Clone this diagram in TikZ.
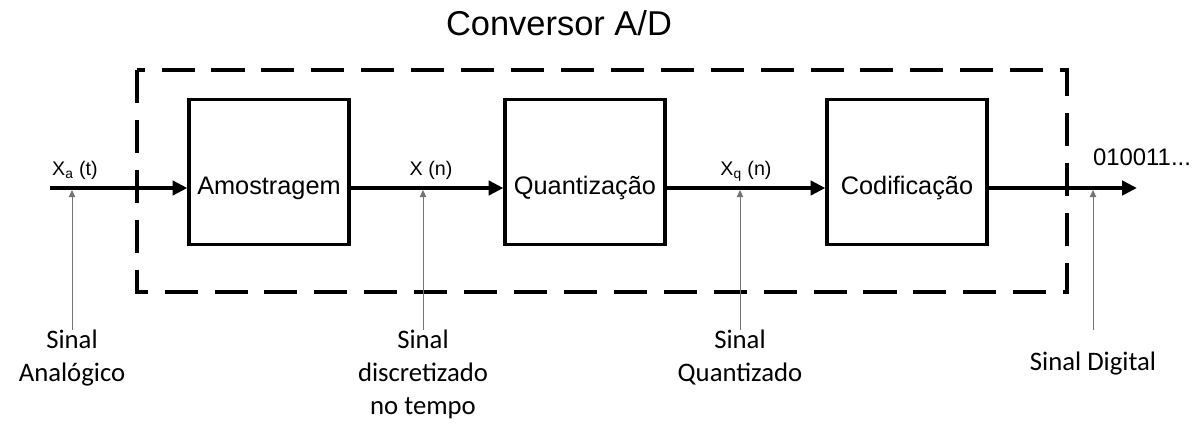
\documentclass[tikz,border=0pt]{standalone}
\usepackage{fontspec}
\setmainfont{Liberation Sans}
\newfontfamily\notefont{Carlito}
\usetikzlibrary{arrows.meta}

\begin{document}
\begin{tikzpicture}[x=0.025cm, y=-0.025cm,
    block/.style={draw=black, line width=2.2pt, minimum width=4cm, minimum height=3.64cm, inner sep=0pt},
    blocktext/.style={font=\fontsize{18}{20}\selectfont, inner sep=0pt},
    signal/.style={line width=2.8pt, -{Triangle[length=10.5pt, width=10pt]}},
    sigtext/.style={font=\fontsize{14}{16}\selectfont, inner sep=0pt, anchor=base},
    pointer/.style={draw=black!55, line width=0.7pt, -{Triangle[length=5pt, width=4.5pt]}},
    note/.style={font=\notefont\fontsize{19}{23.5}\selectfont, align=center, inner sep=0pt, anchor=north}]
    \useasboundingbox (0,0) rectangle (1203,423);

    % Title and dashed outline of the converter
    \node[font=\fontsize{24.5}{28}\selectfont, anchor=base] (title) at (559,35) {Conversor A/D};
    \draw[line width=2.8pt, dash pattern=on 23.5pt off 12pt] (137,70) rectangle (1067,292);

    % The three stages
    \node[block] (amo) at (269,172) {};
    \node[block] (qua) at (585,172) {};
    \node[block] (cod) at (907,172) {};

    \coordinate (xin) at (50,188);
    \coordinate (xout) at (1137,188);
    \node[blocktext] (amotext) at (amo.center |- xin) {Amostragem};
    \node[blocktext] (quatext) at (qua.center |- xin) {Quantização};
    \node[blocktext] (codtext) at (cod.center |- xin) {Codificação};

    % Signal path
    \draw[signal] (xin) -- (amo.west |- xin);
    \draw[signal] (amo.east |- xin) -- (qua.west |- xin);
    \draw[signal] (qua.east |- xin) -- (cod.west |- xin);
    \draw[signal] (cod.east |- xin) -- (xout);

    \node[sigtext] (xa) at (75,175) {X\textsubscript{a} (t)};
    \node[sigtext] (xn) at (431,175) {X (n)};
    \node[sigtext] (xq) at (746,175) {X\textsubscript{q} (n)};
    \node[sigtext, font=\fontsize{17}{20}\selectfont] (bits) at (1142,165) {010011...};

    % Notes under the signals
    \node[note] (n1) at (72,330) {Sinal\\Analógico};
    \node[note] (n2) at (423,330) {Sinal\\discretizado\\no tempo};
    \node[note] (n3) at (740,330) {Sinal\\Quantizado};
    \node[note] (n4) at (1093,352) {Sinal Digital};

    \coordinate (p1) at (72,190);
    \coordinate (p2) at (423,190);
    \coordinate (p3) at (740,190);
    \coordinate (p4) at (1093,190);
    \coordinate (q4) at (1093,330);
    \draw[pointer] (n1.north) -- (p1);
    \draw[pointer] (n2.north) -- (p2);
    \draw[pointer] (n3.north) -- (p3);
    \draw[pointer] (q4) -- (p4);
\end{tikzpicture}
\end{document}
